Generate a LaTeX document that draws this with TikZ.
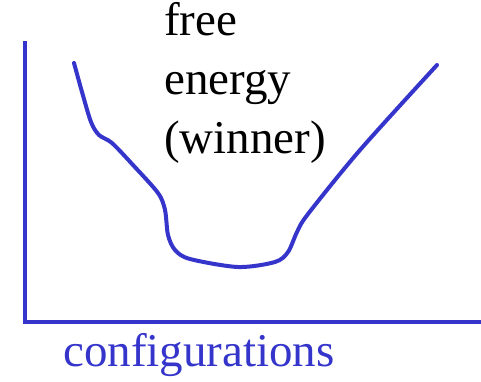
\documentclass[tikz,border=0pt]{standalone}
\usepackage{fontspec}
\setmainfont{Liberation Serif}
\usetikzlibrary{positioning}
\definecolor{axisblue}{RGB}{53,53,204}
\tikzset{
  axisline/.style={draw=axisblue, line width=4pt, line cap=rect},
  curveline/.style={draw=axisblue, line width=4pt, line cap=round, line join=round},
  bigtxt/.style={font=\fontsize{47}{59}\selectfont, inner sep=0pt, align=left},
}

\begin{document}
\begin{tikzpicture}[x=1pt, y=-1pt]
  \useasboundingbox (0,0) rectangle (481,381);

  %% ---- axes ----
  \coordinate (top) at (25,43);
  \coordinate (origin) at (25,322);
  \coordinate (right) at (483,322);
  \draw[axisline] (top) -- (origin) -- (right);

  %% ---- labels ----
  \node[bigtxt, anchor=base west] (energy) at (164,153)
    {free\\energy\\(winner)};
  \node[bigtxt, anchor=base west, text=axisblue] (config) at (63,366)
    {configurations};

  %% ---- energy landscape ----
  \draw[curveline] plot[smooth, tension=0.5] coordinates {
    (74,63) (82,92) (91,122) (99,135) (112,143) (133,165) (158,193)
    (165,210) (168,235) (175,250) (190,259) (238,267) (275,262)
    (288,252) (297,232) (308,214) (360,150) (437,65)};

\end{tikzpicture}
\end{document}
